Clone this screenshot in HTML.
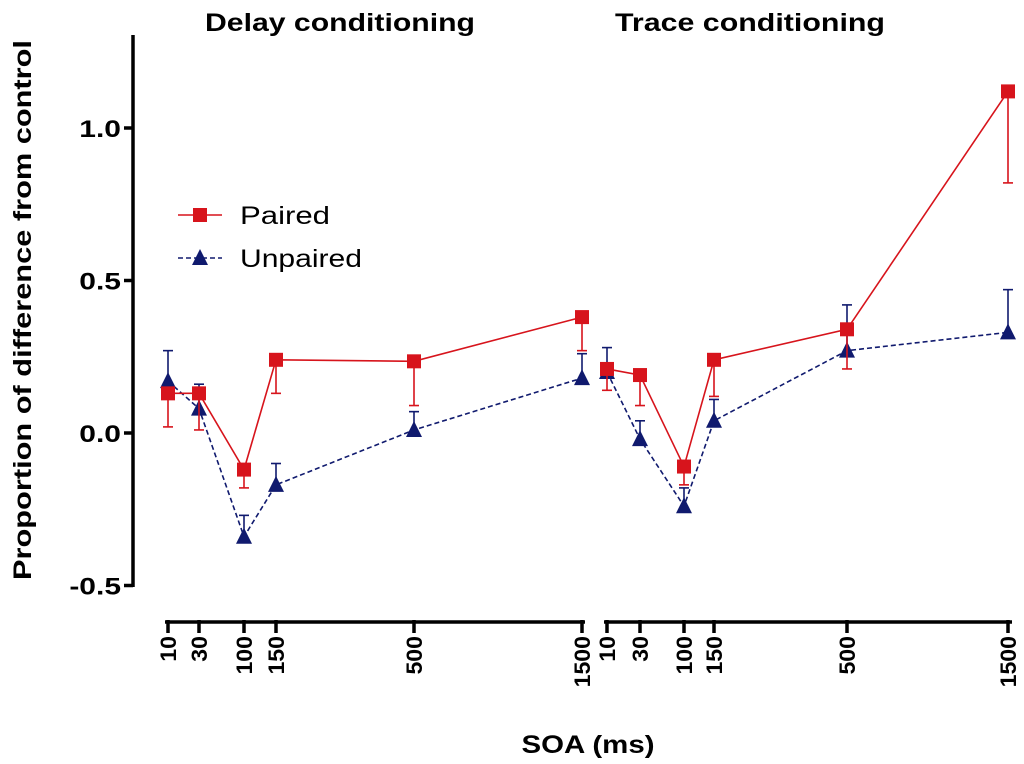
<!DOCTYPE html>
<html><head><meta charset="utf-8"><style>
body{margin:0;background:#fff}
svg{display:block;font-family:"Liberation Sans",Arial,sans-serif}
</style></head><body>
<svg id="chart" width="1024" height="764" viewBox="0 0 1024 764"></svg>
<script>
const soaLevels=[10,30,100,150,500,1500];
const delayPaired=[0.13,0.13,-0.12,0.24,0.235,0.38];
const delayPairedErr=[0.02,0.01,-0.18,0.13,0.09,0.27];
const delayUnpaired=[0.17,0.08,-0.34,-0.17,0.01,0.18];
const delayUnpairedErr=[0.27,0.16,-0.27,-0.10,0.07,0.26];
const tracePaired=[0.21,0.19,-0.11,0.24,0.34,1.12];
const tracePairedErr=[0.14,0.09,-0.17,0.12,0.21,0.82];
const traceUnpaired=[0.20,-0.02,-0.24,0.04,0.27,0.33];
const traceUnpairedErr=[0.28,0.04,-0.18,0.11,0.42,0.47];
const yTicks=[-0.5,0.0,0.5,1.0];
const yTickLabels=["-0.5","0.0","0.5","1.0"];

const NS="http://www.w3.org/2000/svg";
const svg=document.getElementById('chart');
function mk(tag,attrs,parent){const e=document.createElementNS(NS,tag);for(const k in attrs)e.setAttribute(k,attrs[k]);(parent||svg).appendChild(e);return e;}
function y(v){return 433-v*305;}
function xDelay(s){const a=[168,199,244,276,414,582];return a[soaLevels.indexOf(s)];}
function xTrace(s){const a=[607,640,684,714,847,1008];return a[soaLevels.indexOf(s)];}

let e=mk('line',{x1:133,y1:35,x2:133,y2:587,stroke:'#000','stroke-width':3.5});

yTicks.forEach((t,i)=>{
 let l=mk('line',{x1:124,y1:y(t),x2:133,y2:y(t),stroke:'#000','stroke-width':3.5});
 
 let tx=mk('text',{transform:`translate(121,${y(t)+9}) scale(1.25,1)`,'text-anchor':'end','font-size':24,'font-weight':'bold'});
 tx.textContent=yTickLabels[i];
 
});
let yt=mk('text',{transform:'translate(31,310) rotate(-90)','text-anchor':'middle','font-size':25,'font-weight':'bold',textLength:540,lengthAdjust:'spacingAndGlyphs'});
yt.textContent='Proportion of difference from control';


[[xDelay,165,585,'delay-x-axis'],[xTrace,604,1012,'trace-x-axis']].forEach(([fx,a,b,nm])=>{
 let l=mk('line',{x1:a,y1:622,x2:b,y2:622,stroke:'#000','stroke-width':3.5});
 
 soaLevels.forEach(s=>{
  let t=mk('line',{x1:fx(s),y1:620,x2:fx(s),y2:633,stroke:'#000','stroke-width':3.5});
  
  let tx=mk('text',{transform:`translate(${fx(s)+8},636) rotate(-90) scale(1.05,1)`,'text-anchor':'end','font-size':22,'font-weight':'bold'});
  tx.textContent=String(s);
  
 });
});
let xt=mk('text',{x:588,y:753,'text-anchor':'middle','font-size':25,'font-weight':'bold',textLength:133,lengthAdjust:'spacingAndGlyphs'});
xt.textContent='SOA (ms)';
let t1=mk('text',{x:340,y:31,'text-anchor':'middle','font-size':25,'font-weight':'bold',textLength:270,lengthAdjust:'spacingAndGlyphs'});
t1.textContent='Delay conditioning';
let t2=mk('text',{x:750,y:31,'text-anchor':'middle','font-size':25,'font-weight':'bold',textLength:270,lengthAdjust:'spacingAndGlyphs'});
t2.textContent='Trace conditioning';

const RED='#d7141c',BLUE='#101a6e';
function series(fx,vals,errs,color,dash,tri,name){
 let pts=soaLevels.map((s,i)=>fx(s)+','+y(vals[i])).join(' ');
 let p=mk('polyline',{points:pts,fill:'none',stroke:color,'stroke-width':1.6,'stroke-dasharray':dash||'none'});
 
 soaLevels.forEach((s,i)=>{
  const x=fx(s);
  let el=mk('line',{x1:x,y1:y(vals[i]),x2:x,y2:y(errs[i]),stroke:color,'stroke-width':1.6});
  
  let c=mk('line',{x1:x-5,y1:y(errs[i]),x2:x+5,y2:y(errs[i]),stroke:color,'stroke-width':1.6});
  
 });
 soaLevels.forEach((s,i)=>{
  const x=fx(s),yy=y(vals[i]);let m;
  if(tri)m=mk('polygon',{points:`${x},${yy-9} ${x-8},${yy+7} ${x+8},${yy+7}`,fill:color});
  else m=mk('rect',{x:x-7,y:yy-7,width:14,height:14,fill:color});
  
 });
}
series(xDelay,delayUnpaired,delayUnpairedErr,BLUE,'5,3',true,'delay-unpaired');
series(xDelay,delayPaired,delayPairedErr,RED,null,false,'delay-paired');
series(xTrace,traceUnpaired,traceUnpairedErr,BLUE,'5,3',true,'trace-unpaired');
series(xTrace,tracePaired,tracePairedErr,RED,null,false,'trace-paired');

let lg=mk('g',{});
let a1=mk('line',{x1:178,y1:215,x2:222,y2:215,stroke:RED,'stroke-width':1.6},lg);

let a2=mk('rect',{x:193,y:208,width:14,height:14,fill:RED},lg);

let a3=mk('text',{x:240,y:224,'font-size':25,textLength:90,lengthAdjust:'spacingAndGlyphs'},lg);a3.textContent='Paired';

let b1=mk('line',{x1:178,y1:258,x2:222,y2:258,stroke:BLUE,'stroke-width':1.6,'stroke-dasharray':'5,3'},lg);

let b2=mk('polygon',{points:'200,249 192,265 208,265',fill:BLUE},lg);

let b3=mk('text',{x:240,y:267,'font-size':25,textLength:122,lengthAdjust:'spacingAndGlyphs'},lg);b3.textContent='Unpaired';

</script>
</body></html>
